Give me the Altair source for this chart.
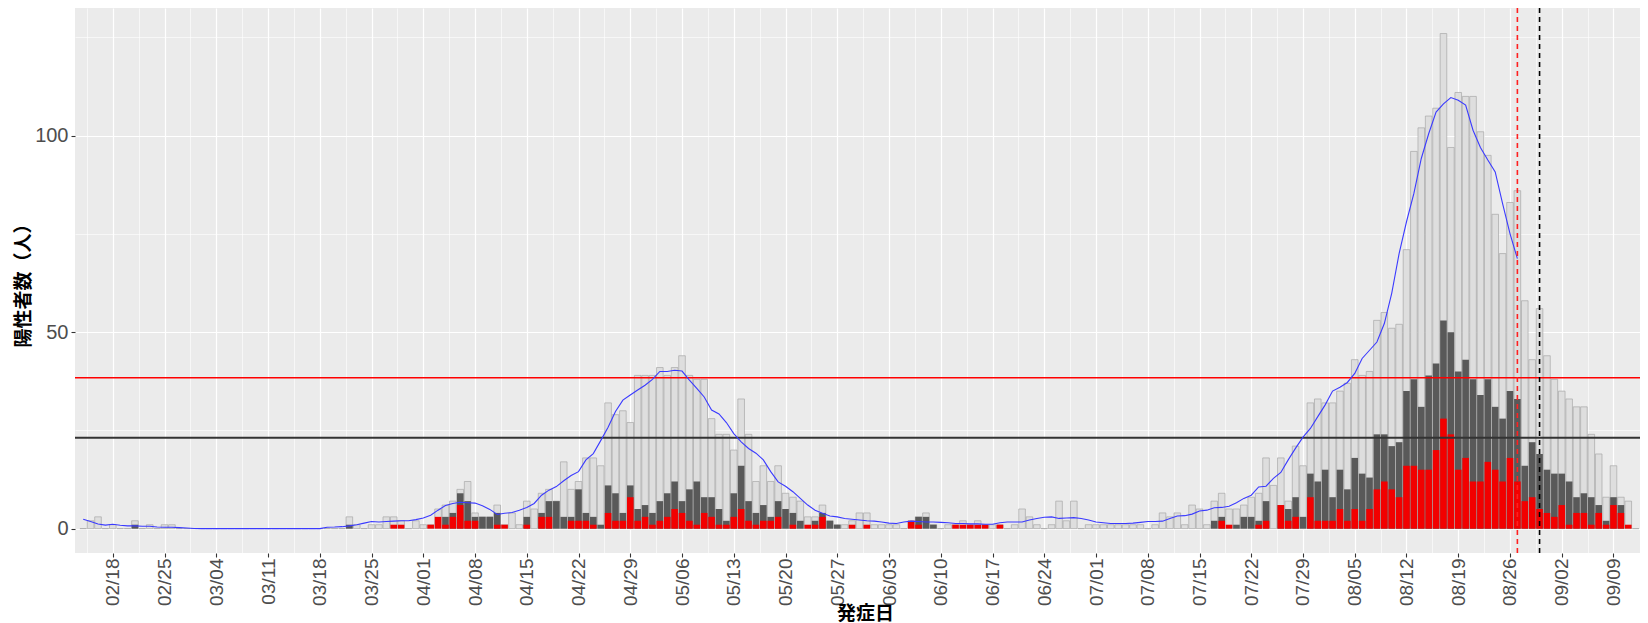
import datetime as dt
import altair as alt
import pandas as pd

# ---------------- data (one value per onset day, 2021-02-14 .. 2021-09-12) ----------------
dates = pd.date_range("2021-02-14", "2021-09-12", freq="D")

# 発症日判明例 (light gray bars, all cases with known onset date)
total = [
    0, 2, 3, 0, 1, 0, 0, 2, 0, 1,
    0, 1, 1, 0, 0, 0, 0, 0, 0, 0,
    0, 0, 0, 0, 0, 0, 0, 0, 0, 0,
    0, 0, 0, 0, 0, 0, 3, 1, 0, 1,
    1, 3, 3, 2, 0, 2, 1, 1, 5, 6,
    7, 10, 12, 4, 3, 3, 6, 1, 4, 1,
    7, 5, 9, 10, 7, 17, 10, 12, 18, 18,
    16, 32, 29, 30, 27, 39, 39, 39, 41, 39,
    41, 44, 39, 38, 38, 28, 24, 24, 20, 33,
    24, 12, 16, 12, 16, 9, 8, 7, 3, 3,
    6, 2, 1, 1, 2, 4, 4, 1, 1, 1,
    1, 0, 2, 3, 4, 1, 0, 1, 1, 2,
    1, 2, 1, 1, 1, 0, 1, 5, 3, 1,
    0, 1, 7, 2, 7, 0, 1, 1, 1, 1,
    1, 1, 1, 1, 0, 1, 4, 3, 4, 1,
    6, 5, 1, 7, 9, 5, 5, 6, 8, 9,
    18, 11, 18, 7, 21, 16, 32, 33, 32, 32,
    35, 37, 43, 39, 40, 53, 55, 51, 52, 71,
    96, 102, 105, 107, 126, 97, 111, 110, 110, 101,
    95, 80, 70, 83, 86, 58, 43, 56, 44, 38,
    35, 33, 31, 31, 24, 19, 8, 16, 8, 7,
    0,
]

# リンクあり例(国内) (dark gray bars)
linked = [
    0, 0, 0, 0, 0, 0, 0, 1, 0, 0,
    0, 0, 0, 0, 0, 0, 0, 0, 0, 0,
    0, 0, 0, 0, 0, 0, 0, 0, 0, 0,
    0, 0, 0, 0, 0, 0, 1, 0, 0, 0,
    0, 0, 0, 0, 0, 0, 0, 0, 0, 3,
    4, 9, 7, 3, 3, 3, 4, 0, 0, 0,
    3, 0, 4, 7, 7, 3, 3, 10, 4, 3,
    1, 11, 9, 4, 11, 5, 6, 4, 7, 9,
    12, 7, 10, 12, 8, 8, 5, 2, 9, 16,
    7, 4, 6, 3, 7, 5, 4, 2, 0, 2,
    4, 2, 1, 0, 0, 0, 0, 0, 0, 0,
    0, 0, 0, 3, 3, 1, 0, 0, 0, 0,
    0, 0, 0, 0, 0, 0, 0, 0, 0, 0,
    0, 0, 0, 0, 0, 0, 0, 0, 0, 0,
    0, 0, 0, 0, 0, 0, 0, 0, 0, 0,
    0, 0, 0, 2, 3, 0, 1, 3, 3, 2,
    7, 0, 6, 5, 8, 3, 14, 12, 15, 8,
    15, 10, 18, 14, 13, 24, 24, 21, 22, 35,
    38, 31, 39, 42, 53, 50, 40, 43, 38, 34,
    38, 31, 28, 35, 33, 16, 22, 19, 15, 14,
    14, 12, 8, 9, 8, 6, 2, 8, 6, 0,
    0,
]

# 孤発例 (red bars)
isolated = [
    0, 0, 0, 0, 0, 0, 0, 0, 0, 0,
    0, 0, 0, 0, 0, 0, 0, 0, 0, 0,
    0, 0, 0, 0, 0, 0, 0, 0, 0, 0,
    0, 0, 0, 0, 0, 0, 0, 0, 0, 0,
    0, 0, 1, 1, 0, 0, 0, 1, 3, 1,
    3, 6, 2, 2, 0, 0, 1, 1, 0, 0,
    1, 0, 3, 3, 0, 0, 2, 2, 2, 1,
    0, 4, 2, 2, 8, 2, 3, 1, 2, 3,
    5, 4, 2, 1, 4, 3, 1, 1, 3, 5,
    2, 1, 2, 2, 3, 0, 1, 0, 1, 1,
    3, 0, 0, 0, 1, 0, 1, 0, 0, 0,
    0, 0, 2, 1, 0, 0, 0, 0, 1, 1,
    1, 1, 1, 0, 1, 0, 0, 0, 0, 0,
    0, 0, 0, 0, 0, 0, 0, 0, 0, 0,
    0, 0, 0, 0, 0, 0, 0, 0, 0, 0,
    0, 0, 0, 0, 2, 1, 0, 0, 0, 1,
    2, 0, 6, 2, 3, 0, 8, 2, 2, 2,
    5, 2, 5, 2, 5, 10, 12, 10, 8, 16,
    16, 15, 15, 20, 28, 24, 15, 18, 12, 12,
    17, 15, 12, 18, 12, 7, 8, 5, 4, 3,
    6, 1, 4, 4, 1, 4, 1, 6, 4, 1,
    0,
]

# blue smoothed line, 2021-02-14 .. 2021-08-27
avg_line = [
    2.4, 1.8, 1.2, 0.9, 1.1, 0.85, 0.7, 0.7, 0.6, 0.6,
    0.4, 0.35, 0.35, 0.25, 0.15, 0.05, 0, 0, 0, 0,
    0, 0, 0, 0, 0, 0, 0, 0, 0, 0,
    0, 0, 0, 0.35, 0.4, 0.5, 0.7, 1.0, 1.4, 1.8,
    1.7, 1.8, 1.9, 2.0, 2.0, 2.3, 2.7, 3.4, 4.7, 5.9,
    6.4, 6.7, 6.6, 6.5, 5.8, 4.9, 3.6, 3.9, 4.1, 4.7,
    5.4, 6.4, 8.5, 9.8, 10.7, 12.2, 13.5, 14.5, 17.5, 19.1,
    22.4, 25.8, 29.8, 32.7, 34.0, 35.3, 36.5, 38.0, 40.0, 40.0,
    40.3, 40.1, 37.8, 35.7, 33.5, 30.2, 29.2, 27.0, 24.2, 22.1,
    20.4, 19.2, 17.5, 14.5, 11.9, 10.8, 9.4, 7.7, 6.0, 4.7,
    3.9, 3.2, 3.0, 2.6, 2.4, 2.2, 2.0, 1.9, 1.7, 1.4,
    1.3, 1.7, 1.9, 1.8, 1.7, 1.7, 1.6, 1.5, 1.3, 1.3,
    1.2, 1.2, 1.1, 1.1, 1.5, 1.7, 1.7, 1.7, 2.2, 2.6,
    2.9, 3.0, 2.6, 2.7, 2.8, 2.6, 2.2, 1.7, 1.5, 1.3,
    1.3, 1.3, 1.4, 1.6, 1.8, 1.8, 1.9, 2.6, 3.2, 3.3,
    3.7, 4.5, 4.7, 5.3, 5.4, 5.7, 6.6, 7.7, 8.5, 10.6,
    10.8, 12.8, 14.3, 17.5, 20.5, 23.3, 25.5, 28.5, 31.5, 35.0,
    36.0, 37.2, 39.5, 43.3, 45.4, 47.5, 52.2, 59.9, 70.0, 78.1,
    85.3, 94.2, 100.5, 106.0, 108.1, 109.7, 109.0, 107.8, 101.4, 97.0,
    93.8, 90.8, 82.7, 75.1, 68.7,
]

series_names = ["発症日判明例", "リンクあり例(国内)", "孤発例"]

hline_values = [38.4, 23.1]
hline_colors = ["#FF0000", "#333333"]
hline_widths = [1.3, 2.0]

vline_dates = ["2021-08-27", "2021-08-30"]
vline_colors = ["#FF2020", "#000000"]

assert len(total) == len(dates) == len(linked) == len(isolated)

date_str = list(dates.strftime("%Y-%m-%dT00:00:00"))
df = pd.DataFrame({"date": date_str, "total": total, "linked": linked, "isolated": isolated})
avg_df = pd.DataFrame({"date": date_str[: len(avg_line)], "avg": avg_line})
hl_df = pd.DataFrame({"y": hline_values, "c": hline_colors, "w": hline_widths})
vl_df = pd.DataFrame({"date": [d + "T00:00:00" for d in vline_dates], "c": vline_colors})

# ---------------- scales & axes ----------------
def dtm(t):
    return alt.DateTime(year=t.year, month=t.month, date=t.day, hours=t.hour, minutes=t.minute)

x_start = dt.datetime(2021, 2, 13, 13, 34)
x_end = dt.datetime(2021, 9, 11, 21, 50)
x_dom = [dtm(x_start), dtm(x_end)]
x_vals = []
first_major = dt.datetime(2021, 2, 18)
for k in range(-1, 31):
    maj = first_major + dt.timedelta(days=7 * k)
    mino = maj + dt.timedelta(days=3, hours=12)
    if k >= 0 and maj <= x_end:
        x_vals.append(dtm(maj))
    if mino <= x_end:
        x_vals.append(dtm(mino))

xscale = alt.Scale(domain=x_dom)
yscale = alt.Scale(domain=[-6.2, 132.5], nice=False, zero=False)

minor_x = "hours(datum.value) == 12"
xaxis = alt.Axis(
    values=x_vals,
    labelExpr="hours(datum.value) == 12 ? '' : timeFormat(datum.value, '%m/%d')",
    labelAngle=270,
    labelFont="Liberation Sans",
    labelFontSize=19,
    labelColor="#4D4D4D",
    labelPadding=1,
    labelOverlap=False,
    labelFlush=False,
    tickColor="#333333",
    tickSize=4,
    tickWidth=1.1,
    tickOpacity={"condition": {"test": minor_x, "value": 0}, "value": 1},
    grid=True,
    gridColor="#FFFFFF",
    gridWidth={"condition": {"test": minor_x, "value": 0.6}, "value": 1.2},
    domain=False,
    title="発症日",
    titleFont="Noto Sans CJK JP",
    titleFontSize=19,
    titleFontWeight="bold",
    titleColor="#000000",
    titleX=790,
    titleY=60,
    titleAlign="center",
    titleBaseline="middle",
)

minor_y = "datum.value % 50 != 0"
yaxis = alt.Axis(
    values=[0, 25, 50, 75, 100, 125],
    labelExpr="datum.value % 50 == 0 ? datum.label : ''",
    labelFont="Liberation Sans",
    labelFontSize=20,
    labelColor="#4D4D4D",
    labelPadding=3,
    tickColor="#333333",
    tickSize=4,
    tickWidth=1.1,
    tickOpacity={"condition": {"test": minor_y, "value": 0}, "value": 1},
    grid=True,
    gridColor="#FFFFFF",
    gridWidth={"condition": {"test": minor_y, "value": 0.6}, "value": 1.2},
    domain=False,
    title="陽性者数（人）",
    titleFont="Noto Sans CJK JP",
    titleFontSize=19,
    titleFontWeight="bold",
    titleColor="#000000",
    titleAngle=270,
    titleX=-52,
    titleBaseline="middle",
)

X = alt.X("date:T", scale=xscale, axis=xaxis)
BW = 6.6
base = alt.Chart(df)

light = base.mark_bar(width=BW, fill="#DEDEDE", stroke="#A8A8A8", strokeWidth=0.7).encode(
    x=X,
    y=alt.Y("total:Q", scale=yscale, axis=yaxis),
)
dark = base.transform_filter("datum.linked > 0").mark_bar(width=BW, color="#595959").encode(
    x=X,
    y=alt.Y("linked:Q", scale=yscale, axis=yaxis),
)
red = base.transform_filter("datum.isolated > 0").mark_bar(width=BW, color="#F20000").encode(
    x=X,
    y=alt.Y("isolated:Q", scale=yscale, axis=yaxis),
)
hlines = alt.Chart(hl_df).mark_rule().encode(
    y=alt.Y("y:Q", scale=yscale, axis=yaxis),
    color=alt.Color("c:N", scale=None),
    strokeWidth=alt.StrokeWidth("w:Q", scale=None),
)
line = alt.Chart(avg_df).mark_line(color="#3A3AFF", strokeWidth=1.1).encode(
    x=X,
    y=alt.Y("avg:Q", scale=yscale, axis=yaxis),
)
vlines = alt.Chart(vl_df).mark_rule(strokeDash=[5, 4], strokeWidth=1.6).encode(
    x=X,
    color=alt.Color("c:N", scale=None),
)

chart = (
    alt.layer(light, dark, red, hlines, line, vlines)
    .properties(
        width=1565,
        height=545,
        autosize=alt.AutoSizeParams(type="none"),
        padding={"left": 67, "top": 0, "right": 0, "bottom": 70},
    )
    .configure_view(fill="#EBEBEB", stroke=None)
)

chart.save("out.html", embed_options={"renderer": "svg", "actions": False})
